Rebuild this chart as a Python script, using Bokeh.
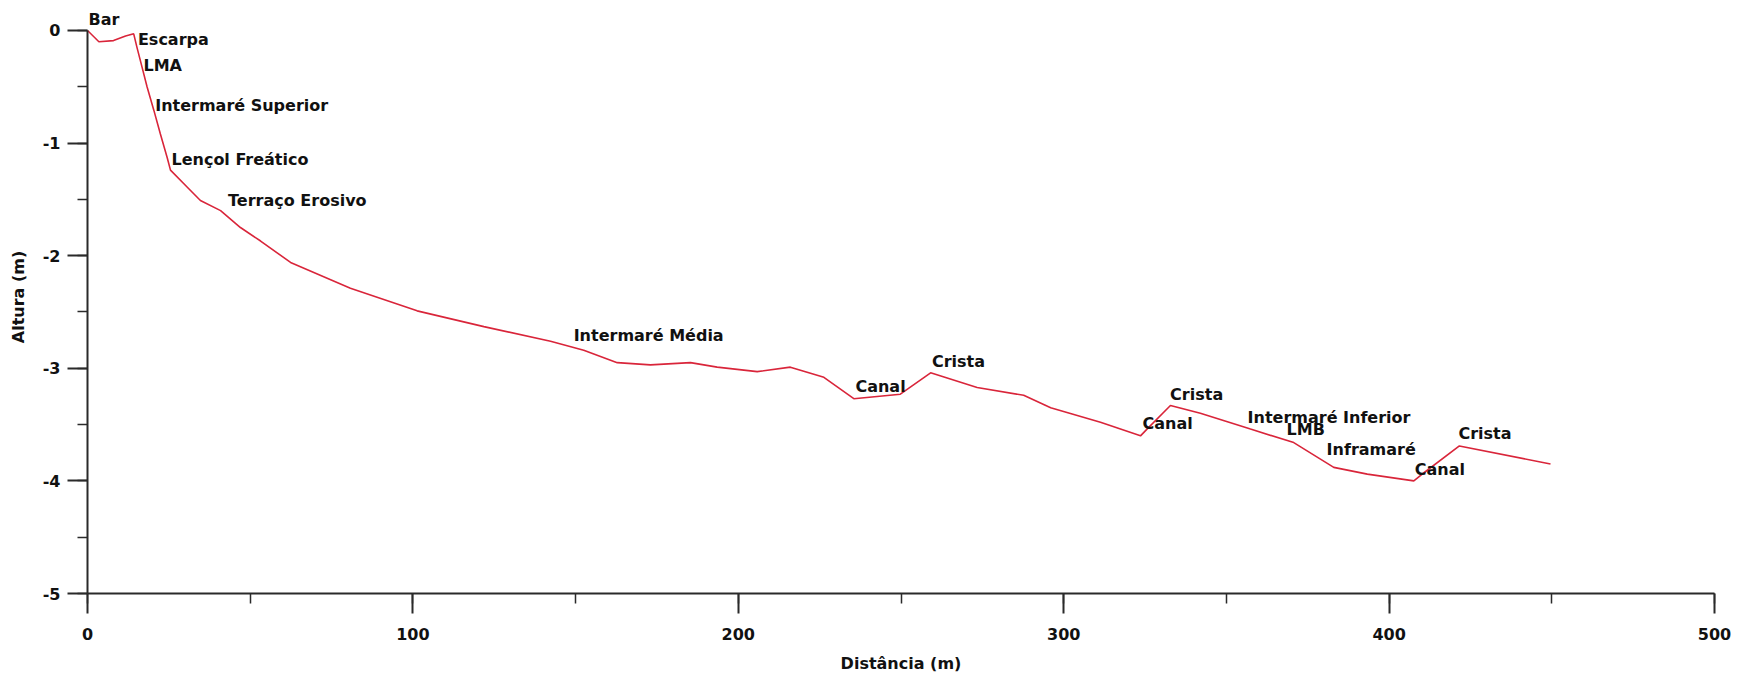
from bokeh.plotting import figure
from bokeh.models import ColumnDataSource, SingleIntervalTicker, Range1d, PrintfTickFormatter
from bokeh.core.properties import value
from bokeh.embed import file_html
from bokeh.resources import INLINE

# profile data
distance = [0, 3.5, 8, 11.7, 14.2, 15.2, 16.8, 18.3, 20.4, 22.4, 24.5, 25.5, 30.6, 34.7,
            40.9, 47, 53.2, 62.4, 80.8, 101.3, 121.8, 142.3, 152.5, 162.8, 173, 185.3,
            193.5, 205.8, 216, 226.3, 235.5, 249.8, 259.1, 273.4, 287.7, 296, 311.3,
            323.6, 325.6, 332.8, 342, 357.4, 370.7, 383, 393.3, 407.6, 409.7, 421.6, 449.6]
height = [0, -0.10, -0.09, -0.05, -0.03, -0.15, -0.33, -0.50, -0.71, -0.92, -1.13, -1.24,
          -1.39, -1.51, -1.60, -1.75, -1.87, -2.06, -2.29, -2.49, -2.63, -2.76, -2.84,
          -2.95, -2.97, -2.95, -2.99, -3.03, -2.99, -3.08, -3.27, -3.23, -3.04, -3.17,
          -3.24, -3.35, -3.48, -3.60, -3.54, -3.33, -3.40, -3.54, -3.66, -3.88, -3.94,
          -4.00, -3.95, -3.69, -3.85]

# annotations
label_names = ["Bar", "Escarpa", "LMA", "Intermaré Superior", "Lençol Freático",
               "Terraço Erosivo", "Intermaré Média", "Canal", "Crista", "Crista", "Canal",
               "Intermaré Inferior", "LMB", "Inframaré", "Canal", "Crista"]
label_x = [0.3, 15.5, 17.2, 20.8, 25.8, 43.2, 149.4, 236, 259.5, 332.7, 324.2, 356.5,
           368.5, 380.8, 407.9, 421.3]
label_y = [0.10, -0.08, -0.31, -0.67, -1.15, -1.51, -2.71, -3.16, -2.94, -3.23, -3.49,
           -3.44, -3.54, -3.72, -3.90, -3.58]

x_ticks_interval = 100
y_ticks_interval = 1

p = figure(width=1750, height=678, output_backend="svg", toolbar_location=None,
           x_range=Range1d(0, 500), y_range=Range1d(-5, 0.266),
           min_border_left=87, min_border_right=36, min_border_top=0, min_border_bottom=85)
p.outline_line_color = None
p.xgrid.visible = False
p.ygrid.visible = False
p.background_fill_color = "white"
p.border_fill_color = "white"

p.line(distance, height, line_color="#d9253a", line_width=1.6)

src = ColumnDataSource(dict(x=label_x, y=label_y, t=label_names))
p.text(x="x", y="y", text="t", source=src, text_font=value("DejaVu Sans"),
       text_font_style="bold", text_font_size="16px", text_color="#111111",
       text_baseline="middle", text_align="left")

p.xaxis.ticker = SingleIntervalTicker(interval=x_ticks_interval, num_minor_ticks=2)
p.yaxis.ticker = SingleIntervalTicker(interval=y_ticks_interval, num_minor_ticks=2)
p.yaxis.formatter = PrintfTickFormatter(format="%d")
p.xaxis.formatter = PrintfTickFormatter(format="%d")
p.yaxis.bounds = (-5, 0)
p.xaxis.axis_label = "Distância (m)"
p.yaxis.axis_label = "Altura (m)"

for ax in (p.xaxis[0], p.yaxis[0]):
    ax.axis_line_width = 2
    ax.axis_line_color = "#2a2a2a"
    ax.major_tick_in = 0
    ax.major_tick_out = 20
    ax.minor_tick_in = 0
    ax.minor_tick_out = 10
    ax.major_tick_line_width = 2
    ax.major_tick_line_color = "#2a2a2a"
    ax.minor_tick_line_width = 1.5
    ax.minor_tick_line_color = "#2a2a2a"
    ax.major_label_text_font = "DejaVu Sans"
    ax.major_label_text_font_style = "bold"
    ax.major_label_text_font_size = "16px"
    ax.major_label_text_color = "#111111"
    ax.axis_label_text_font = "DejaVu Sans"
    ax.axis_label_text_font_style = "bold"
    ax.axis_label_text_font_size = "16px"
    ax.axis_label_text_color = "#111111"

p.xaxis.major_label_standoff = 14
p.xaxis.axis_label_standoff = 11
p.yaxis.major_label_standoff = 7
p.yaxis.axis_label_standoff = 12

open("out.html", "w").write(file_html(p, INLINE))
